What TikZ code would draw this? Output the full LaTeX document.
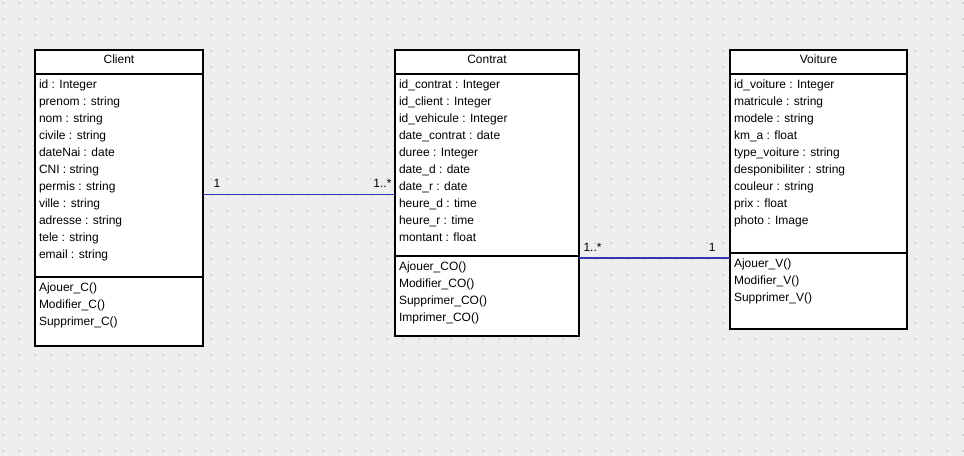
\documentclass[tikz,border=0pt]{standalone}
\usepackage{fontspec}
\setmainfont{Liberation Sans}
\usetikzlibrary{positioning,calc}
\definecolor{canvas}{HTML}{EEEEEE}
\definecolor{griddot}{HTML}{D2D2D2}
\definecolor{assocblue}{HTML}{3038B0}

\begin{document}
\begin{tikzpicture}[
  x=0.75pt, y=-0.75pt,
  every node/.style={font=\fontsize{9}{12.75}\selectfont},
  head/.style={draw=black, line width=1.1pt, fill=white, outer sep=0pt, inner xsep=3pt, inner ysep=0pt, text height=10.5pt, text depth=7.5pt},
  part/.style={draw=black, line width=1.1pt, fill=white, outer sep=0pt, inner sep=0pt, inner xsep=3pt},
  assoc/.style={draw=assocblue, line width=0.85pt},
  mult/.style={inner sep=0pt},
]
% canvas with dotted grid
\fill[canvas] (0,0) rectangle (964,456);
\useasboundingbox (0,0) rectangle (964,456);
\foreach \i in {0,...,60}
  \foreach \j in {0,...,28}
    \fill[griddot] (2+16*\i,2+16*\j) rectangle ++(2,2);

% classes
\node[head, anchor=north west, minimum width=126pt] (client) at (35,50) {Client};
\node[part, below=0pt of client] (client-attr) {\parbox[t][152.25pt][t]{120pt}{\vspace*{2.3pt}\strut id : Integer\\prenom : string\\nom : string\\civile : string\\dateNai : date\\CNI : string\\permis : string\\ville : string\\adresse : string\\tele : string\\email : string}};
\node[part, below=0pt of client-attr] (client-ops) {\parbox[t][51.75pt][t]{120pt}{\vspace*{2.3pt}\strut Ajouer\_C()\\Modifier\_C()\\Supprimer\_C()}};

\node[head, minimum width=138pt, right=144pt of client] (contrat) {Contrat};
\node[part, below=0pt of contrat] (contrat-attr) {\parbox[t][136.5pt][t]{132pt}{\vspace*{2.3pt}\strut id\_contrat : Integer\\id\_client : Integer\\id\_vehicule : Integer\\date\_contrat : date\\duree : Integer\\date\_d : date\\date\_r : date\\heure\_d : time\\heure\_r : time\\montant : float}};
\node[part, below=0pt of contrat-attr] (contrat-ops) {\parbox[t][60pt][t]{132pt}{\vspace*{2.3pt}\strut Ajouer\_CO()\\Modifier\_CO()\\Supprimer\_CO()\\Imprimer\_CO()}};

\node[head, minimum width=132.75pt, right=113.25pt of contrat] (voiture) {Voiture};
\node[part, below=0pt of voiture] (voiture-attr) {\parbox[t][134.25pt][t]{126.75pt}{\vspace*{2.3pt}\strut id\_voiture : Integer\\matricule : string\\modele : string\\km\_a : float\\type\_voiture : string\\desponibiliter : string\\couleur : string\\prix : float\\photo : Image}};
\node[part, below=0pt of voiture-attr] (voiture-ops) {\parbox[t][57pt][t]{126.75pt}{\vspace*{2.3pt}\strut Ajouer\_V()\\Modifier\_V()\\Supprimer\_V()}};

% associations
\draw[assoc] ($(client-attr.east)+(0,19)$) coordinate (a1) -- (a1 -| contrat-attr.west)
  node[mult, pos=0, anchor=base west, xshift=7.5pt, yshift=5.6pt] {1}
  node[mult, pos=1, anchor=base east, xshift=-2.25pt, yshift=5.6pt] {1..*};
\draw[assoc] ($(contrat-ops.north east)+(0,2)$) coordinate (a2) -- (a2 -| voiture-ops.west)
  node[mult, pos=0, anchor=base west, xshift=3pt, yshift=4.5pt] {1..*}
  node[mult, pos=1, anchor=base east, xshift=-10.5pt, yshift=4.5pt] {1};
\end{tikzpicture}
\end{document}
